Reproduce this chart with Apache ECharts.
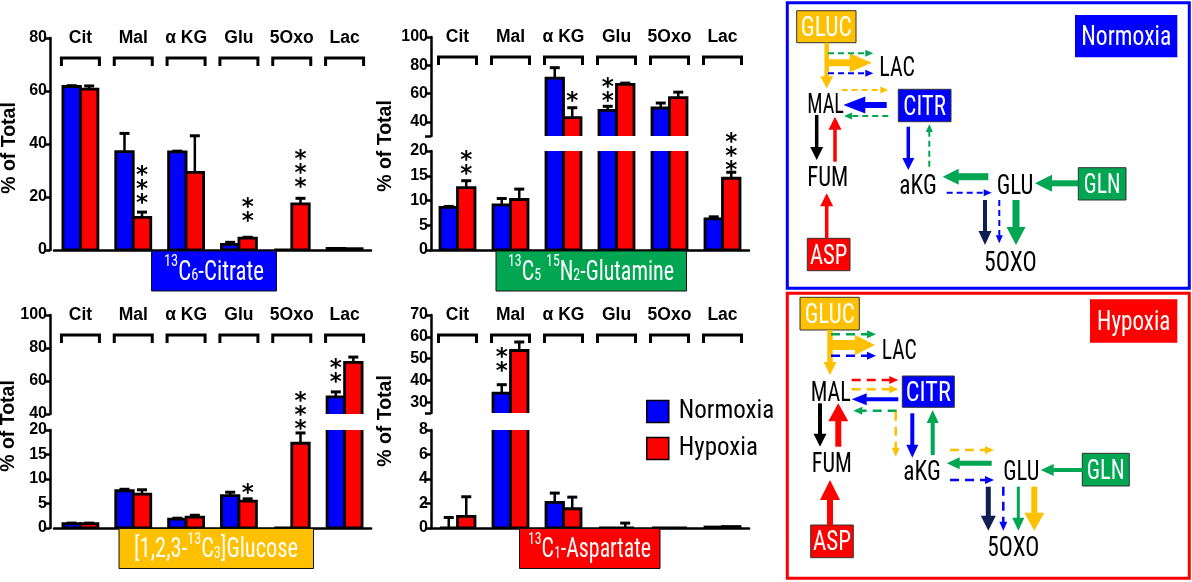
<!DOCTYPE html>
<html><head><meta charset="utf-8">
<script src="https://cdn.jsdelivr.net/npm/echarts@6/dist/echarts.min.js"></script>
<style>html,body{margin:0;padding:0;background:#fff}#c{width:1192px;height:582px}</style>
</head><body><div id="c"></div>
<script>
// ---------------- DATA ----------------
const categories = ['Cit', 'Mal', 'α KG', 'Glu', '5Oxo', 'Lac'];
// 13C6-Citrate
const citN    = [61.7, 37.1, 37.0, 2.1, 0, 0.6];
const citNErr = [0.3, 6.9, 0.3, 0.8, 0, 0];
const citH    = [60.7, 12.3, 29.3, 4.5, 17.4, 0.5];
const citHErr = [1.2, 2.0, 13.8, 0.3, 2.1, 0];
// 13C5 15N2-Glutamine
const glnN    = [8.6, 9.1, 70.9, 48.1, 49.8, 6.3];
const glnNErr = [0.2, 1.3, 7.4, 2.9, 3.5, 0.4];
const glnH    = [12.6, 10.2, 43.0, 66.5, 57.1, 14.5];
const glnHErr = [1.4, 2.1, 7.0, 0.9, 3.9, 1.2];
// [1,2,3-13C3]Glucose
const glcN    = [0.9, 7.6, 1.8, 6.6, 0, 50.4];
const glcNErr = [0.1, 0.3, 0.2, 0.7, 0, 3.0];
const glcH    = [0.9, 6.9, 2.2, 5.5, 17.3, 71.3];
const glcHErr = [0.1, 0.9, 0.4, 0.45, 2.1, 3.2];
// 13C1-Aspartate
const aspN    = [0, 34.1, 2.1, 0, 0, 0.08];
const aspNErr = [0.86, 3.9, 0.75, 0, 0, 0];
const aspH    = [0.95, 53.7, 1.57, 0, 0, 0.12];
const aspHErr = [1.6, 3.9, 0.95, 0.4, 0, 0];
// significance stars: [category, group(0=N,1=H), value of lowest star, count]
const citStars    = [[1, 1, 19.2, 3], [3, 1, 12.5, 2], [4, 1, 25.3, 3]];
const glnStarsUp  = [[2, 1, 57.5, 1], [3, 0, 57.5, 2]];
const glnStarsLow = [[0, 1, 16.2, 2], [5, 1, 17.0, 3]];
const glcStarsUp  = [[5, 0, 62.1, 2]];
const glcStarsLow = [[3, 1, 8.0, 1], [4, 1, 21.1, 3]];
const aspStarsUp  = [[1, 0, 46.3, 2]];
// tick values
const citTicks    = [0, 20, 40, 60, 80];
const glnUpTicks  = [30, 40, 60, 80, 100];
const glnUpLabels = [40, 60, 80, 100];
const low20Ticks  = [0, 5, 10, 15, 20];
const glcUpTicks  = [40, 60, 80, 100];
const aspUpTicks  = [25, 30, 40, 50, 60, 70];
const aspUpLabels = [30, 40, 50, 60, 70];
const aspLowTicks = [0, 2, 4, 6, 8];
const legendNames = ['Normoxia', 'Hypoxia'];

// ---------------- STYLE / HELPERS ----------------
const FONT = '"Liberation Sans", Arial, Helvetica, sans-serif';
const BLUE = '#0000ff', RED = '#ff0000', GOLD = '#ffc000', GREEN = '#00a651', NAVY = '#0f1f52';
const BW = 17.5, BORDER = 2.8, CAP = 5, BR = 19, STAR_STEP = 14;

const ctx = document.createElement('canvas').getContext('2d');
function tw(s, size, fam, weight) { ctx.font = (weight || 'normal') + ' ' + size + 'px ' + fam; return ctx.measureText(s).width; }
function has(f) {
  const t = 'mmmmwwwwiiilllQQ';
  return Math.abs(tw(t, 40, '"' + f + '", monospace') - tw(t, 40, 'monospace')) > 0.5 &&
         Math.abs(tw(t, 40, '"' + f + '", serif') - tw(t, 40, 'serif')) > 0.5;
}
const CFname = ['Liberation Sans Narrow', 'Roboto Condensed', 'Roboto'].find(has) || 'Roboto';
const CF = '"' + CFname + '", Roboto, sans-serif';

const grids = [
  {left: 54,  top: 38,  width: 317, height: 212},
  {left: 431, top: 37,  width: 318, height: 99},
  {left: 431, top: 151, width: 318, height: 99},
  {left: 54,  top: 315, width: 317, height: 99},
  {left: 54,  top: 430, width: 317, height: 98},
  {left: 431, top: 315, width: 318, height: 98},
  {left: 431, top: 430, width: 318, height: 98}
];

function yAx(gi, min, max, ticks, labels, offset) {
  return {
    type: 'value', gridIndex: gi, min, max, offset: offset || 0,
    axisLine: {show: true, lineStyle: {color: '#000', width: 2.5}},
    axisTick: {show: true, length: 6, lineStyle: {color: '#000', width: 2.5}, customValues: ticks},
    axisLabel: {color: '#000', fontWeight: 'bold', fontSize: 16, fontFamily: FONT, margin: 3, customValues: labels || ticks},
    splitLine: {show: false}
  };
}
function xAx(gi, showLine) {
  return {
    type: 'category', gridIndex: gi, data: categories, boundaryGap: true,
    axisLine: {show: showLine, onZero: false, lineStyle: {color: '#000', width: 2.5}},
    axisTick: {show: false}, axisLabel: {show: false}, splitLine: {show: false}
  };
}
function barSeries(gi, vals, errs, side, color, name) {
  return {
    type: 'custom', name, coordinateSystem: 'cartesian2d', xAxisIndex: gi, yAxisIndex: gi,
    clip: true, z: 2, silent: true, itemStyle: {color}, lineStyle: {width: 0.01},
    encode: {x: 0, y: 1},
    data: vals.map((v, i) => [i, v, errs[i]]),
    renderItem(params, api) {
      const i = api.value(0), v = api.value(1), e = api.value(2);
      const b = api.coord([i, 0]), t = api.coord([i, v]);
      const cx = b[0] + side * BW / 2;
      const ch = [{type: 'rect', shape: {x: cx - BW / 2, y: t[1], width: BW, height: b[1] - t[1]},
                   style: {fill: color, stroke: '#000', lineWidth: BORDER}}];
      if (e > 0) {
        const et = api.coord([i, v + e])[1];
        ch.push({type: 'line', shape: {x1: cx, y1: t[1], x2: cx, y2: et}, style: {stroke: '#000', lineWidth: 2.5}});
        ch.push({type: 'line', shape: {x1: cx - CAP, y1: et, x2: cx + CAP, y2: et}, style: {stroke: '#000', lineWidth: 3}});
      }
      return {type: 'group', children: ch};
    }
  };
}
function bracketSeries(gi, yVal) {
  return {
    type: 'custom', coordinateSystem: 'cartesian2d', xAxisIndex: gi, yAxisIndex: gi,
    silent: true, z: 3, clip: false,
    data: categories.map((c, i) => [i, yVal]),
    renderItem(params, api) {
      const i = api.value(0);
      const cx = api.coord([i, api.value(1)])[0];
      const top = params.coordSys.y;
      return {type: 'group', children: [
        {type: 'text', x: cx, y: top, style: {text: categories[i], fill: '#000', fontSize: 17.5, fontWeight: 'bold',
          fontFamily: FONT, textAlign: 'center', textVerticalAlign: 'middle', verticalAlign: 'middle'}},
        {type: 'polyline', shape: {points: [[cx - BR, top + 28], [cx - BR, top + 20], [cx + BR, top + 20], [cx + BR, top + 28]]},
          style: {stroke: '#000', lineWidth: 3, fill: null}}
      ]};
    }
  };
}
function starSeries(gi, stars) {
  return {
    type: 'custom', coordinateSystem: 'cartesian2d', xAxisIndex: gi, yAxisIndex: gi,
    silent: true, z: 4, clip: false,
    data: stars,
    renderItem(params, api) {
      const i = api.value(0), g = api.value(1), v = api.value(2), n = api.value(3);
      const p = api.coord([i, v]);
      const cx = p[0] + (g === 0 ? -1 : 1) * BW / 2;
      const ch = [];
      for (let k = 0; k < n; k++) {
        ch.push({type: 'text', x: cx, y: p[1] - k * STAR_STEP + 5, style: {text: '*', fill: '#000', fontSize: 23, fontWeight: 'bold',
          fontFamily: '"DejaVu Sans", sans-serif', textAlign: 'center', textVerticalAlign: 'middle', verticalAlign: 'middle'}});
      }
      return {type: 'group', children: ch};
    }
  };
}

// ---------------- GRAPHIC (labels, titles, schematic) ----------------
const G = [];
function box(x, y, w, h, fill, stroke) {
  G.push({type: 'rect', z: 5, shape: {x, y, width: w, height: h},
    style: {fill, stroke: stroke || null, lineWidth: stroke ? 1 : 0}});
}
function frame(x, y, w, h, color) {
  G.push({type: 'rect', z: 5, shape: {x, y, width: w, height: h}, style: {fill: null, stroke: color, lineWidth: 3}});
}
function ctext(cx, cy, str, targetW, color, size) {
  size = size || 28;
  const w = tw(str, size, CF);
  G.push({type: 'text', z: 7, x: cx, y: cy + 2, scaleX: targetW / w,
    style: {text: str, x: 0, y: 0, fill: color || '#000', fontSize: size, fontFamily: CF,
      textAlign: 'center', textVerticalAlign: 'middle', verticalAlign: 'middle'}});
}
function arrowEl(x1, y1, x2, y2, color, w, hw, hl, dash) {
  const dx = x2 - x1, dy = y2 - y1, L = Math.hypot(dx, dy), ux = dx / L, uy = dy / L;
  const bx = x2 - ux * hl, by = y2 - uy * hl, px = -uy, py = ux;
  G.push({type: 'line', z: 6, shape: {x1, y1, x2: bx + ux * 0.5, y2: by + uy * 0.5},
    style: {stroke: color, lineWidth: w, lineDash: dash || null}});
  G.push({type: 'polygon', z: 6, shape: {points: [[x2, y2], [bx + px * hw / 2, by + py * hw / 2], [bx - px * hw / 2, by - py * hw / 2]]},
    style: {fill: color}});
}
function A(x1, y1, x2, y2, c, w, hw, hl) { arrowEl(x1, y1, x2, y2, c, w, hw, hl, null); }
function Dn(x1, y1, x2, y2, c) { arrowEl(x1, y1, x2, y2, c, 2, 7, 8, [6, 4]); }
function Dh(x1, y1, x2, y2, c) { arrowEl(x1, y1, x2, y2, c, 2.5, 8, 9, [9, 6]); }
function richLabel(cx, cy, parts, targetW) {
  const MS = 27, SS = 17;
  let str = '', w = 0;
  parts.forEach(([t, k]) => { str += k ? '{' + k + '|' + t + '}' : '{m|' + t + '}'; w += tw(t, k ? SS : MS, CF); });
  G.push({type: 'text', z: 7, x: cx, y: cy + 2, scaleX: targetW / w,
    style: {text: str, x: 0, y: 0, fill: '#fff', fontSize: MS, fontFamily: CF, textAlign: 'center',
      textVerticalAlign: 'middle', verticalAlign: 'middle',
      rich: {
        m: {fontSize: MS, fontFamily: CF, fill: '#fff', lineHeight: 30, verticalAlign: 'middle'},
        s: {fontSize: SS, fontFamily: CF, fill: '#fff', lineHeight: 17, verticalAlign: 'middle', padding: [0, 0, 22, 0]},
        b: {fontSize: SS, fontFamily: CF, fill: '#fff', lineHeight: 17, verticalAlign: 'middle', padding: [6, 0, 0, 0]}
      }}});
}
function ytitle(cx, cy) {
  G.push({type: 'text', z: 7, x: cx, y: cy, rotation: Math.PI / 2,
    style: {text: '% of Total', x: 0, y: 0, fill: '#000', fontSize: 19.5, fontWeight: 'bold', fontFamily: FONT,
      textAlign: 'center', textVerticalAlign: 'middle', verticalAlign: 'middle'}});
}

// panel labels
box(151.5, 251, 125, 40, BLUE, '#111');
richLabel(214, 271, [['13', 's'], ['C'], ['6', 'b'], ['-Citrate']], 100);
box(496, 251, 190.5, 40, GREEN, '#111');
richLabel(591, 271, [['13', 's'], ['C'], ['5', 'b'], [' '], ['15', 's'], ['N'], ['2', 'b'], ['-Glutamine']], 166);
box(119, 528.5, 194.5, 40, GOLD, '#111');
richLabel(216, 548.5, [['[1,2,3-'], ['13', 's'], ['C'], ['3', 'b'], [']Glucose']], 164);
box(519.5, 528.5, 140.5, 40, RED, '#111');
richLabel(589.5, 548.5, [['13', 's'], ['C'], ['1', 'b'], ['-Aspartate']], 123);
ytitle(10, 148); ytitle(386, 146); ytitle(9, 426); ytitle(386, 421);

// ---- Normoxia schematic ----
frame(787.3, 2.7, 402, 285.6, BLUE);
box(1075, 15, 102.3, 42.3, BLUE);
ctext(1126.2, 36.2, 'Normoxia', 90, '#fff', 27);
box(796.7, 10.7, 59.3, 32, GOLD, '#333'); ctext(826.3, 26.7, 'GLUC', 51, '#fff');
ctext(897.2, 67, 'LAC', 35.7);
ctext(825.6, 104.2, 'MAL', 36.7);
box(898.3, 89.3, 52.7, 32.4, BLUE, '#333'); ctext(924.7, 105.5, 'CITR', 42.7, '#fff');
ctext(827.8, 176.7, 'FUM', 41);
box(807.3, 238.3, 42.7, 32.4, RED, '#333'); ctext(828.7, 254.5, 'ASP', 37.3, '#fff');
ctext(918, 184.5, 'aKG', 37.4);
ctext(1015, 184.5, 'GLU', 36.6);
box(1078.3, 167.7, 47.7, 32.3, GREEN, '#333'); ctext(1102.2, 183.8, 'GLN', 36.7, '#fff');
ctext(1010.3, 261.7, '5OXO', 52.7);
A(826.7, 42.7, 826.7, 88.3, GOLD, 4.5, 13, 12);
A(826.7, 62.7, 871.7, 62.7, GOLD, 7, 19, 22);
Dn(828, 53.3, 873.3, 53.3, GREEN);
Dn(828, 73.3, 873.3, 73.3, BLUE);
Dn(841.7, 90, 888.3, 90, GOLD);
A(886.7, 105, 843.3, 105, BLUE, 6, 17, 22);
Dn(888.3, 116, 844, 116, GREEN);
A(816.7, 115, 816.7, 160, '#000', 3.5, 13, 13);
A(835, 161.7, 835, 116.7, RED, 3.5, 13, 13);
A(826.7, 238, 826.7, 193.3, RED, 3.5, 13, 13);
A(908.3, 126.7, 908.3, 170, BLUE, 3.5, 12, 12);
Dn(929.3, 166.7, 929.3, 124, GREEN);
A(988.3, 176.7, 942.7, 176.7, GREEN, 7, 16, 16);
Dn(946.7, 192.7, 991.7, 192.7, BLUE);
A(1078.3, 183.3, 1035, 183.3, GREEN, 6, 17, 17);
A(985, 200, 985, 245, NAVY, 4, 13, 14);
Dn(999.3, 200, 999.3, 243.3, BLUE);
A(1016, 200, 1016, 245, GREEN, 7, 19, 18);

// ---- Hypoxia schematic ----
frame(787.3, 293.3, 402, 285, RED);
box(1090, 299.3, 87.3, 43.4, RED);
ctext(1133.7, 321, 'Hypoxia', 73.3, '#fff', 27);
box(800, 297.3, 59.3, 32.7, GOLD, '#333'); ctext(829.7, 313.7, 'GLUC', 50, '#fff');
ctext(899.2, 350, 'LAC', 35);
ctext(830.7, 391.7, 'MAL', 40);
box(902.3, 376, 52, 31.3, BLUE, '#333'); ctext(928.3, 391.7, 'CITR', 45, '#fff');
ctext(831.7, 463.3, 'FUM', 40);
box(810.7, 525, 42.6, 32.7, RED, '#333'); ctext(832, 541.3, 'ASP', 38, '#fff');
ctext(922, 471, 'aKG', 37.4);
ctext(1021.3, 471, 'GLU', 36);
box(1082.3, 453.3, 47, 32.7, GREEN, '#333'); ctext(1105.8, 469.7, 'GLN', 38, '#fff');
ctext(1013.3, 546.7, '5OXO', 52);
A(830, 330, 830, 375, GOLD, 5.5, 13, 13);
A(830, 345, 875, 345, GOLD, 10, 20, 20);
Dh(831, 334.3, 876, 334.3, GREEN);
Dh(831, 355.7, 876, 355.7, BLUE);
Dh(851.7, 380, 898.3, 380, RED);
Dh(851.7, 389.3, 898.3, 389.3, GOLD);
A(898.3, 399.3, 851.7, 399.3, BLUE, 4, 12, 15);
Dh(896.7, 410.7, 853.3, 410.7, GREEN);
Dh(895.7, 411.7, 895.7, 456.7, GOLD);
A(820, 403.3, 820, 446.7, '#000', 4, 13, 13);
A(838.3, 446.7, 838.3, 403.3, RED, 6, 20, 18);
A(830, 525, 830, 480, RED, 6, 20, 20);
A(912.3, 413.3, 912.3, 457.7, BLUE, 4, 12, 13);
A(932.7, 455, 932.7, 410, GREEN, 4, 12, 13);
Dh(950, 450, 994, 450, GOLD);
A(991.7, 463.3, 946.7, 463.3, GREEN, 5, 12, 13);
Dh(950, 480, 994, 480, BLUE);
A(1083.3, 470, 1040.7, 470, GREEN, 4, 12, 13);
A(988.3, 486.7, 988.3, 530.7, NAVY, 5, 15, 15);
Dh(1003.3, 486.7, 1003.3, 530.7, BLUE);
A(1018.3, 486.7, 1018.3, 530.7, GREEN, 3, 12, 13);
A(1034.3, 486.7, 1034.3, 530.7, GOLD, 6, 20, 18);

// ---------------- OPTION ----------------
const LFS = 25;
const series = [
  barSeries(0, citN, citNErr, -1, BLUE, 'Normoxia'), barSeries(0, citH, citHErr, 1, RED, 'Hypoxia'),
  barSeries(1, glnN, glnNErr, -1, BLUE, 'Normoxia'), barSeries(1, glnH, glnHErr, 1, RED, 'Hypoxia'),
  barSeries(2, glnN, glnNErr, -1, BLUE, 'Normoxia'), barSeries(2, glnH, glnHErr, 1, RED, 'Hypoxia'),
  barSeries(3, glcN, glcNErr, -1, BLUE, 'Normoxia'), barSeries(3, glcH, glcHErr, 1, RED, 'Hypoxia'),
  barSeries(4, glcN, glcNErr, -1, BLUE, 'Normoxia'), barSeries(4, glcH, glcHErr, 1, RED, 'Hypoxia'),
  barSeries(5, aspN, aspNErr, -1, BLUE, 'Normoxia'), barSeries(5, aspH, aspHErr, 1, RED, 'Hypoxia'),
  barSeries(6, aspN, aspNErr, -1, BLUE, 'Normoxia'), barSeries(6, aspH, aspHErr, 1, RED, 'Hypoxia'),
  bracketSeries(0, 0), bracketSeries(1, 30), bracketSeries(3, 40), bracketSeries(5, 25),
  starSeries(0, citStars), starSeries(1, glnStarsUp), starSeries(2, glnStarsLow),
  starSeries(3, glcStarsUp), starSeries(4, glcStarsLow), starSeries(5, aspStarsUp)
];
const option = {
  animation: false,
  backgroundColor: '#fff',
  grid: grids,
  xAxis: [xAx(0, true), xAx(1, false), xAx(2, true), xAx(3, false), xAx(4, true), xAx(5, false), xAx(6, true)],
  yAxis: [
    yAx(0, 0, 80, citTicks, null, 4),
    yAx(1, 30, 100, glnUpTicks, glnUpLabels, 0),
    yAx(2, 0, 20, low20Ticks, null, 0),
    yAx(3, 40, 100, glcUpTicks, null, 4),
    yAx(4, 0, 20, low20Ticks, null, 4),
    yAx(5, 25, 70, aspUpTicks, aspUpLabels, 0),
    yAx(6, 0, 8, aspLowTicks, null, 0)
  ],
  legend: {
    data: [
      {name: legendNames[0], itemStyle: {color: BLUE, borderColor: '#000', borderWidth: 1.5}},
      {name: legendNames[1], itemStyle: {color: RED, borderColor: '#000', borderWidth: 1.5}}
    ],
    selectedMode: false, orient: 'vertical', left: 641, top: 394, icon: 'rect',
    itemWidth: 22, itemHeight: 22, itemGap: 12,
    textStyle: {fontSize: LFS, fontFamily: CF, color: '#000', padding: [0, 0, 0, 5]}
  },
  graphic: {elements: G},
  series
};
const chart = echarts.init(document.getElementById('c'), null, {renderer: 'canvas'});
chart.setOption(option);
</script>
</body></html>
